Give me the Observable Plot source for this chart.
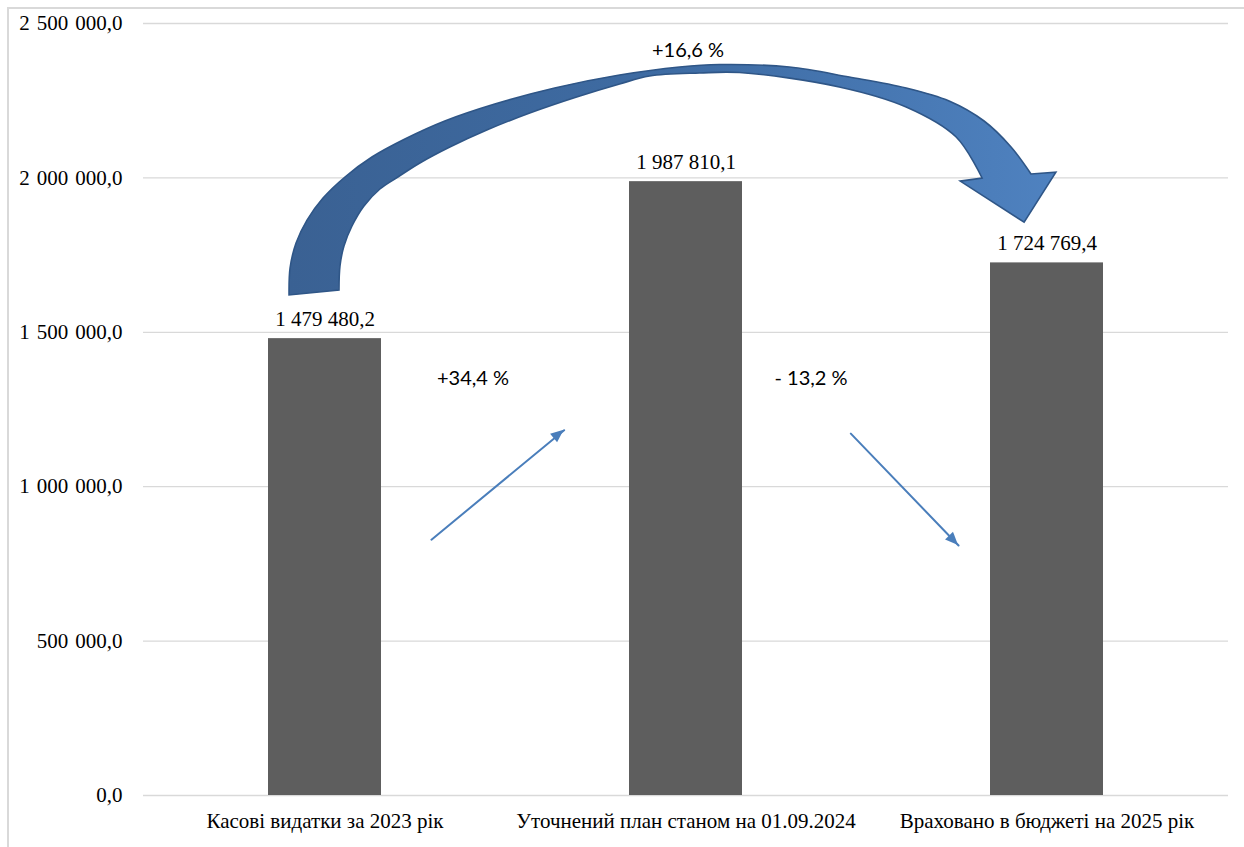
<!DOCTYPE html>
<html><head><meta charset="utf-8">
<script src="https://cdn.jsdelivr.net/npm/d3@7"></script>
<script src="https://cdn.jsdelivr.net/npm/@observablehq/plot@0.6"></script>
<style>
html,body{margin:0;padding:0;background:#fff;overflow:hidden;width:1244px;height:847px;}
#frame{position:absolute;left:7px;top:7px;width:1400px;height:1000px;border:2px solid #d9d9d9;box-sizing:border-box;}
#chart{position:absolute;left:0;top:0;}
</style></head><body><div id="frame"></div><div id="chart"></div>
<script>
const categories = ["Касові видатки за 2023 рік", "Уточнений план станом на 01.09.2024", "Враховано в бюджеті на 2025 рік"];
const values = [1479480.2, 1987810.1, 1724769.4];
const yTicks = [0, 500000, 1000000, 1500000, 2000000, 2500000];

const locale = d3.formatLocale({decimal: ",", thousands: " ", grouping: [3]});
const axisLocale = d3.formatLocale({decimal: ",", thousands: "\u2004", grouping: [3]});
const fmt = locale.format(",.1f");
const axisFmt = axisLocale.format(",.1f");
const pfmt = locale.format(".1f");
const change = (a, b) => { const p = (b / a - 1) * 100; return (p >= 0 ? "+" : "- ") + pfmt(Math.abs(p)) + " %"; };

const rows = categories.map((c, i) => ({c, v: values[i]}));
const serif = "'Liberation Serif', 'Times New Roman', serif";
const sans = "Lato, 'Open Sans', sans-serif";
const arrowBlue = "#4a7ebb";

// small straight arrows between bars: anchored on bar centres, trimmed by insets
const smallArrows = [
  {c1: categories[0], v1: 544000, c2: categories[1], v2: 1508400, i1: 138, i2: 158},
  {c1: categories[1], v1: 1726000, c2: categories[2], v2: 512300, i1: 237.6, i2: 127.5}
];

function bandCenter(scales) {
  const sx = scales.x;
  const bw = typeof sx.bandwidth === "function" ? sx.bandwidth() : (sx.bandwidth || 0);
  return c => sx(c) + bw / 2;
}

function arrowHeads(index, scales) {
  const X = bandCenter(scales), Y = scales.y;
  const g = d3.create("svg:g");
  for (const a of smallArrows) {
    const x1 = X(a.c1), y1 = Y(a.v1), x2 = X(a.c2), y2 = Y(a.v2);
    const L = Math.hypot(x2 - x1, y2 - y1), ux = (x2 - x1) / L, uy = (y2 - y1) / L;
    const tx = x2 - ux * a.i2, ty = y2 - uy * a.i2;
    const len = 13, hw = 5.5;
    const bx = tx - ux * len, by = ty - uy * len;
    const pts = [[tx, ty], [bx - uy * hw, by + ux * hw], [bx + uy * hw, by - ux * hw]];
    g.append("path").attr("d", "M" + pts.map(p => p.join(",")).join("L") + "Z").attr("fill", arrowBlue);
  }
  return g.node();
}

function bigArrow(index, scales) {
  const X = bandCenter(scales), sy = scales.y;
  const c0 = X(categories[0]);
  const step = X(categories[1]) - X(categories[0]);
  const P = ([t, v]) => [c0 + t * step, sy(v * 1000)];
  const outer = [[-0.0982,1619.2],[-0.0954,1706.6],[-0.0788,1787.5],[-0.0484,1861.7],[-0.0041,1933.0],[0.0567,2001.3],[0.1314,2066.0],[0.2227,2124.3],[0.3333,2182.6],[0.4716,2237.5],[0.6376,2289.5],[0.8174,2331.4],[0.9834,2357.4],[1.0941,2365.5],[1.2877,2357.4],[1.4537,2325.0],[1.6113,2289.5],[1.7303,2247.4],[1.8271,2182.6],[1.9018,2098.4],[1.9571,2011.0]].map(P);
  const inner = [[0.0401,1635.4],[0.0429,1713.1],[0.0539,1777.8],[0.0761,1842.6],[0.1093,1907.4],[0.1535,1962.4],[0.2033,2001.3],[0.2642,2046.7],[0.3472,2098.4],[0.4495,2153.5],[0.5685,2208.5],[0.6985,2260.4],[0.8174,2302.5],[0.9004,2328.4],[1.0387,2338.1],[1.1494,2339.7],[1.4260,2293.0],[1.6113,2228.0],[1.7497,2130.8],[1.8216,1998.0]].map(P);
  const head = [[2.026,2017],[1.938,1855],[1.761,1988]].map(P);
  const line = d3.line().curve(d3.curveCatmullRom);
  let d = line(outer);
  d += head.map(p => "L" + p[0] + "," + p[1]).join("");
  d += line(inner.slice().reverse()).replace(/^M/, "L") + "Z";
  const g = d3.create("svg:g");
  const grad = g.append("defs").append("linearGradient")
    .attr("id", "bigArrowGrad").attr("gradientUnits", "userSpaceOnUse")
    .attr("x1", P([-0.1, 0])[0]).attr("x2", P([2.03, 0])[0]).attr("y1", 0).attr("y2", 0);
  grad.append("stop").attr("offset", 0).attr("stop-color", "#3a6193");
  grad.append("stop").attr("offset", 0.55).attr("stop-color", "#3f6da5");
  grad.append("stop").attr("offset", 1).attr("stop-color", "#4f82c0");
  g.append("path").attr("d", d).attr("fill", "url(#bigArrowGrad)")
    .attr("stroke", "#2f5687").attr("stroke-width", 1.6).attr("stroke-linejoin", "miter");
  return g.node();
}

const chart = Plot.plot({
  width: 1244, height: 847,
  marginLeft: 143, marginRight: 16, marginTop: 23, marginBottom: 52,
  style: {fontFamily: serif, fontSize: "21px", color: "#000", background: "transparent"},
  x: {domain: categories, paddingInner: 0.6876, paddingOuter: 0.3438},
  y: {domain: [0, 2500000]},
  marks: [
    Plot.ruleY(yTicks, {stroke: "#d9d9d9", strokeWidth: 1.3}),
    Plot.axisY({ticks: yTicks, tickFormat: axisFmt, tickSize: 0, tickPadding: 21, label: null, fontSize: 21, fontFamily: serif}),
    Plot.axisX({tickSize: 0, tickPadding: 18, label: null, fontSize: 21, fontFamily: serif}),
    Plot.barY(rows, {x: "c", y: "v", fill: "#5e5e5e"}),
    Plot.text(rows, {x: "c", y: "v", text: d => fmt(d.v), dy: -13, lineAnchor: "bottom", fontSize: 21, fontFamily: serif, fill: "#000"}),
    ...smallArrows.map(a => Plot.arrow([a], {x1: "c1", y1: "v1", x2: "c2", y2: "v2", insetStart: a.i1, insetEnd: a.i2,
      stroke: arrowBlue, strokeWidth: 2, headLength: 0})),
    arrowHeads,
    bigArrow,
    Plot.text([change(values[0], values[1])], {x: () => categories[0], y: () => 1350000, text: d => d, dx: 148, fontFamily: sans, fontSize: 20, fill: "#000"}),
    Plot.text([change(values[1], values[2])], {x: () => categories[1], y: () => 1350000, text: d => d, dx: 125, fontFamily: sans, fontSize: 20, fill: "#000"}),
    Plot.text([change(values[0], values[2])], {x: () => categories[1], y: () => 2412000, text: d => d, dx: 2, fontFamily: sans, fontSize: 20, fill: "#000"})
  ]
});
document.getElementById("chart").appendChild(chart);
</script></body></html>
